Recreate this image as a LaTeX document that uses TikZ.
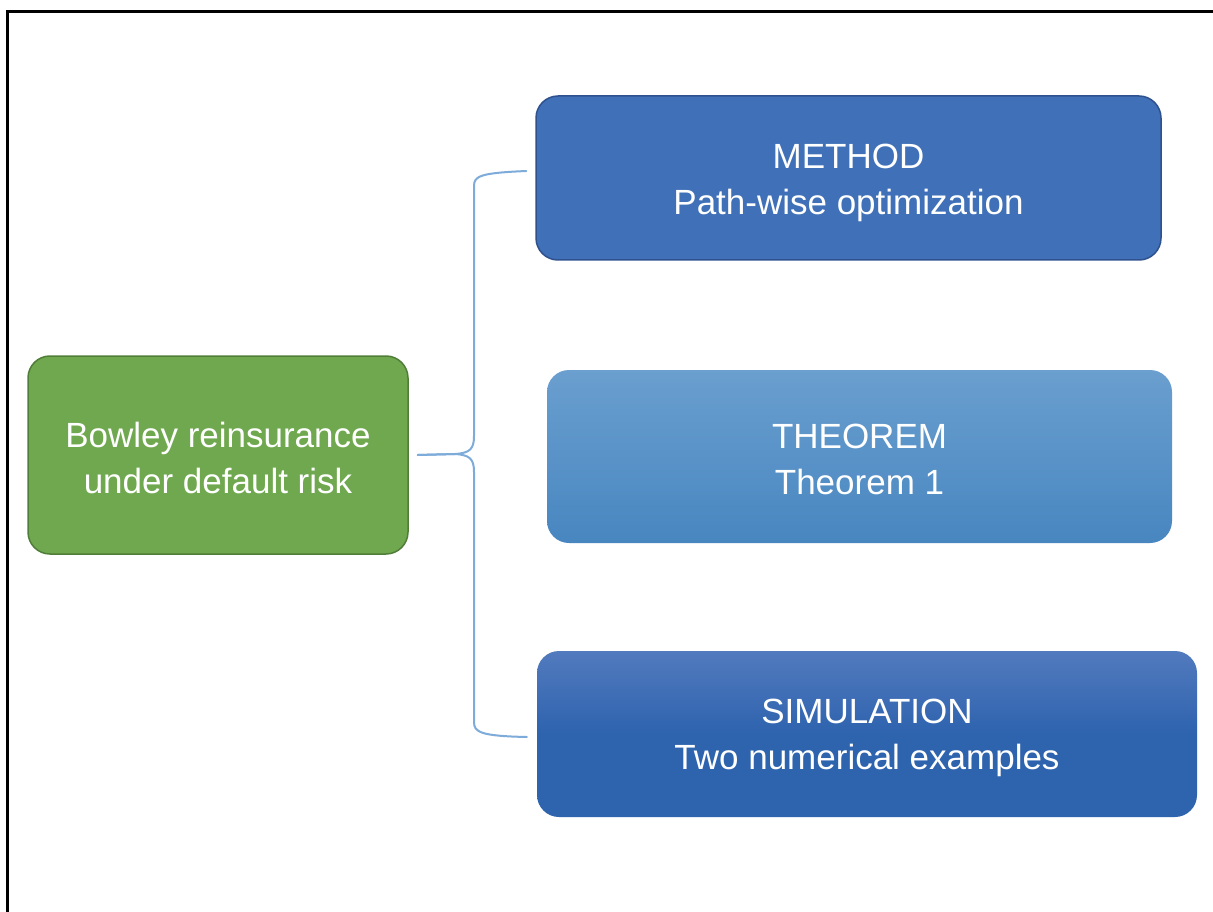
\documentclass[tikz,border=0pt]{standalone}
\usepackage{fontspec}
\setmainfont{Liberation Sans}
\begin{document}
\begin{tikzpicture}[x=1pt,y=-1pt,
  box/.style={rectangle, rounded corners=22pt, inner sep=0pt},
  caption/.style={align=center, text=white, inner sep=0pt,
    font=\fontsize{35}{46}\selectfont},
  bracket/.style={line width=2pt, color={rgb,255:red,125;green,172;blue,218}},
]
\definecolor{greenfill}{RGB}{112,168,79}
\definecolor{greenline}{RGB}{80,126,56}
\definecolor{methodfill}{RGB}{64,112,183}
\definecolor{methodline}{RGB}{47,82,143}
\definecolor{thmtop}{RGB}{106,159,207}
\definecolor{thmbot}{RGB}{72,134,192}
\definecolor{simtop}{RGB}{82,122,190}
\definecolor{simbot}{RGB}{46,99,174}

\useasboundingbox (0,0) rectangle (1213,912);
\fill[white] (0,0) rectangle (1213,912);

% outer frame
\draw[line width=3pt, black] (1213,12) -- (7,12) -- (7,912);

% main topic
\node[box, fill=greenfill, draw=greenline, line width=1.5pt,
      minimum width=380pt, minimum height=198pt] (topic) at (218,455) {};
\node[caption] (topictext) at ([yshift=-3pt]topic.center)
  {Bowley reinsurance\\under default risk};

% branches
\node[box, fill=methodfill, draw=methodline, line width=1.5pt,
      minimum width=625pt, minimum height=164pt] (method) at (848.5,178) {};
\node[caption] (methodtext) at ([yshift=-5pt]method.center)
  {METHOD\\Path-wise optimization};

\node[box, top color=thmtop, bottom color=thmbot, middle color=thmtop!50!thmbot,
      minimum width=625pt, minimum height=173pt] (theorem) at (859.5,456.5) {};
\node[caption] (theoremtext) at ([yshift=-3pt]theorem.center)
  {THEOREM\\Theorem 1};

\node[box, top color=simtop, bottom color=simbot, middle color=simbot,
      minimum width=660pt, minimum height=166pt] (simulation) at (867,734) {};
\node[caption] (simulationtext) at ([yshift=-4pt]simulation.center)
  {SIMULATION\\Two numerical examples};

% curly bracket joining the topic to its branches
\coordinate (bl) at ([xshift=9pt]topic.east);
\coordinate (bt) at ([xshift=-9pt,yshift=7pt]method.west);
\coordinate (bb) at ([xshift=-10pt,yshift=-3pt]simulation.west);
\draw[bracket, line cap=round]
  (bl) -- (455,454) .. controls (470,453) and (474,449) .. (474,436)
  -- (474,186) .. controls (474,176) and (480,173) .. (bt);
\draw[bracket, line cap=round]
  (bl) -- (455,454) .. controls (470,455) and (474,459) .. (474,472)
  -- (474,722) .. controls (474,732) and (480,736) .. (bb);
\end{tikzpicture}
\end{document}
